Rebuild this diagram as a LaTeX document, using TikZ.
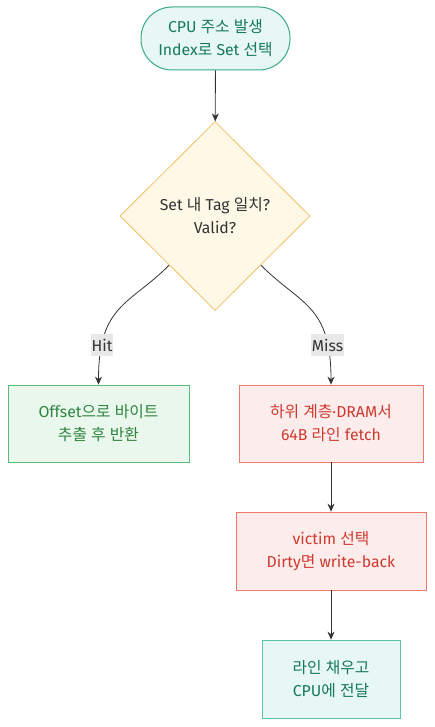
\documentclass[tikz,border=0pt]{standalone}
\usepackage{fontspec}
\setmainfont{Fira Sans}
\newfontfamily\krfont{Noto Sans CJK KR}
% hangul goes to the CJK font, the rest stays in Fira Sans
\XeTeXinterchartokenstate=1
\newXeTeXintercharclass\krcls
\count255="AC00
\loop\XeTeXcharclass\count255=\krcls
  \ifnum\count255<"D7A3 \advance\count255 by 1 \repeat
\XeTeXinterchartoks 0 \krcls = {\krfont}
\XeTeXinterchartoks 4095 \krcls = {\krfont}
\XeTeXinterchartoks \krcls 0 = {\rmfamily}
\XeTeXinterchartoks \krcls 4095 = {\rmfamily}
\usetikzlibrary{shapes.geometric,arrows.meta}
\definecolor{tealfill}{HTML}{E7F7F3}
\definecolor{tealdraw}{HTML}{3AAA8A}
\definecolor{tealtext}{HTML}{16795F}
\definecolor{decfill}{HTML}{FEF8E6}
\definecolor{decdraw}{HTML}{F2C063}
\definecolor{hitfill}{HTML}{EAF7EC}
\definecolor{hitdraw}{HTML}{5DBB73}
\definecolor{hittext}{HTML}{2E8540}
\definecolor{missfill}{HTML}{FDECEC}
\definecolor{missdraw}{HTML}{F07A6A}
\definecolor{misstext}{HTML}{CF3A2E}
\definecolor{donedraw}{HTML}{5CC3AB}
\definecolor{edgegray}{HTML}{333333}
\definecolor{lblfill}{HTML}{E8E8E8}

\begin{document}
\begin{tikzpicture}[x=1pt,y=1pt,
    every node/.style={font=\fontsize{15.8}{23}\selectfont, align=center, inner sep=0pt},
    startbox/.style={draw=tealdraw, fill=tealfill, text=tealtext, line width=1pt,
      rounded corners=31pt, minimum width=149pt, minimum height=63pt},
    decbox/.style={diamond, draw=decdraw, fill=decfill, text=edgegray, line width=0.8pt,
      minimum width=190pt, minimum height=189pt},
    hitbox/.style={draw=hitdraw, fill=hitfill, text=hittext, line width=0.8pt, minimum height=77pt},
    missbox/.style={draw=missdraw, fill=missfill, text=misstext, line width=0.8pt, minimum height=77pt},
    donebox/.style={draw=donedraw, fill=tealfill, text=tealtext, line width=0.8pt, minimum height=78pt},
    flow/.style={draw=edgegray, line width=0.8pt, -{Stealth[length=8pt,width=7pt]}},
    lbl/.style={fill=lblfill, text=edgegray, inner sep=1pt, minimum height=22pt}]
    \useasboundingbox (0,0) rectangle (434,-727);

    \node[startbox] (start) at (215.5,-38.5) {CPU 주소 발생\\Index로 Set 선택};
    \node[decbox] (dec) at (215,-216) {Set 내 Tag 일치?\\Valid?};
    \node[hitbox, minimum width=181pt] (hit) at (98.5,-423.5) {Offset으로 바이트\\추출 후 반환};
    \node[missbox, minimum width=184pt] (fetch) at (331,-423.5) {하위 계층·DRAM서\\64B 라인 fetch};
    \node[missbox, minimum width=190pt, minimum height=78pt] (victim) at (331,-551) {victim 선택\\Dirty면 write-back};
    \node[donebox, minimum width=138pt] (done) at (331,-679) {라인 채우고\\CPU에 전달};

    \draw[flow] (start) -- (dec);
    \draw[flow] (dec.-133) .. controls +(-40,-40) and +(0,80) .. node[lbl, pos=0.8]{Hit} (hit.north);
    \draw[flow] (dec.-47) .. controls +(40,-40) and +(0,80) .. node[lbl, pos=0.8]{Miss} (fetch.north);
    \draw[flow] (fetch) -- (victim);
    \draw[flow] (victim) -- (done);
\end{tikzpicture}
\end{document}
